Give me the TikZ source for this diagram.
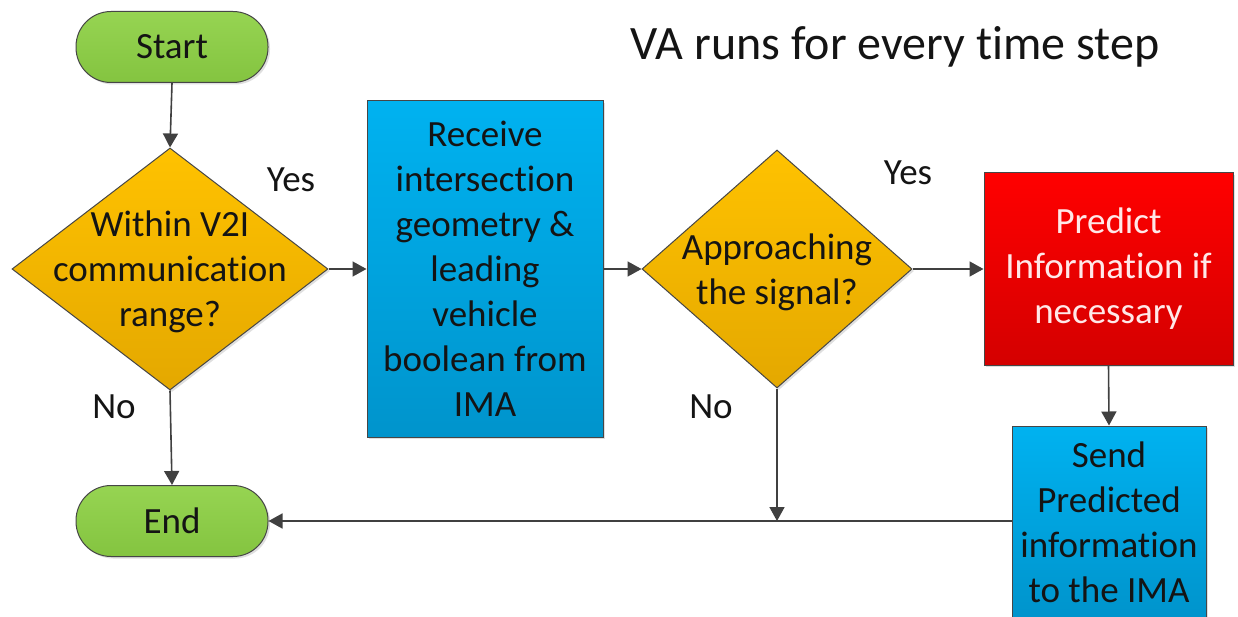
\documentclass[tikz,border=0pt]{standalone}
\usepackage{fontspec}
\setmainfont{Carlito}[Ligatures=NoCommon]
\usetikzlibrary{shapes.geometric,arrows.meta,shadows}
\definecolor{edgegray}{RGB}{70,70,70}
\definecolor{linegray}{RGB}{64,64,64}
\definecolor{greentop}{RGB}{150,212,82}
\definecolor{greenbot}{RGB}{132,196,64}
\definecolor{orangetop}{RGB}{255,194,0}
\definecolor{orangebot}{RGB}{228,168,0}
\definecolor{bluetop}{RGB}{0,178,240}
\definecolor{bluebot}{RGB}{0,148,204}
\definecolor{redtop}{RGB}{255,0,0}
\definecolor{redbot}{RGB}{212,0,0}
\definecolor{txtdark}{RGB}{20,20,20}
\definecolor{txtpink}{RGB}{255,232,232}
\begin{document}
\begin{tikzpicture}[x=1pt,y=-1pt,
  base/.style={draw=edgegray, line width=1pt, inner sep=0pt, align=center,
    font=\fontsize{37}{45}\selectfont, text=txtdark,
    drop shadow={opacity=0.25, shadow xshift=2pt, shadow yshift=-2pt}},
  term/.style={base, rectangle, rounded corners=35pt, minimum width=192pt, minimum height=71pt,
    top color=greentop, bottom color=greenbot},
  dia/.style={base, diamond, top color=orangetop, bottom color=orangebot},
  bluebox/.style={base, rectangle, top color=bluetop, bottom color=bluebot},
  redbox/.style={base, rectangle, top color=redtop, bottom color=redbot, text=txtpink},
  txt/.style={align=center, font=\fontsize{37}{45}\selectfont, text=txtdark, inner sep=0pt},
  lbl/.style={font=\fontsize{37}{45}\selectfont, text=txtdark, inner sep=0pt},
  conn/.style={draw=linegray, line width=1.6pt, -{Triangle[length=14pt,width=15pt]}},
  plain/.style={draw=linegray, line width=1.6pt}
]
\useasboundingbox (0,0) rectangle (1238,617);
\clip (0,0) rectangle (1238,617);
\fill[white] (0,0) rectangle (1238,617);

% title
\node[font=\fontsize{48}{58}\selectfont, text=txtdark, inner sep=0pt] (title) at (895,47) {VA runs for every time step};

% nodes
\node[term] (s) at (172,47) {Start};
\node[dia, minimum width=316pt, minimum height=242pt] (d1) at (170,269) {};
\node[txt] (d1t) at ([yshift=-3pt]d1.center) {Within V2I\\communication\\range?};
\node[bluebox, minimum width=236pt, minimum height=336pt] (b1) at (485,269)
  {Receive\\intersection\\geometry \&\\leading\\vehicle\\boolean from\\IMA};
\node[dia, minimum width=270pt, minimum height=238pt] (d2) at (777,269) {};
\node[txt] (d2t) at ([yshift=-3pt]d2.center) {Approaching\\the signal?};
\node[redbox, minimum width=249pt, minimum height=192pt] (r) at (1108.5,269)
  {Predict\\Information if\\necessary};
\node[bluebox, minimum width=194pt, minimum height=192pt] (b2) at (1109,522)
  {Send\\Predicted\\information\\to the IMA};
\node[term] (e) at (172,521) {End};

% labels
\node[lbl] (y1) at (291,180) {Yes};
\node[lbl] (n1) at (114,407) {No};
\node[lbl] (y2) at (908,173) {Yes};
\node[lbl] (n2) at (711,407) {No};

% connectors
\coordinate (m) at (d2.south |- e.east);
\draw[conn] (s.south) -- (d1.north);
\draw[conn] (d1.east) -- (b1.west);
\draw[conn] (b1.east) -- (d2.west);
\draw[conn] (d2.east) -- (r.west);
\draw[conn] (r.south) -- (b2.north);
\draw[conn] (d1.south) -- (e.north);
\draw[conn] (d2.south) -- (m);
\draw[conn] (b2.west |- e.east) -- (e.east);
\end{tikzpicture}
\end{document}
